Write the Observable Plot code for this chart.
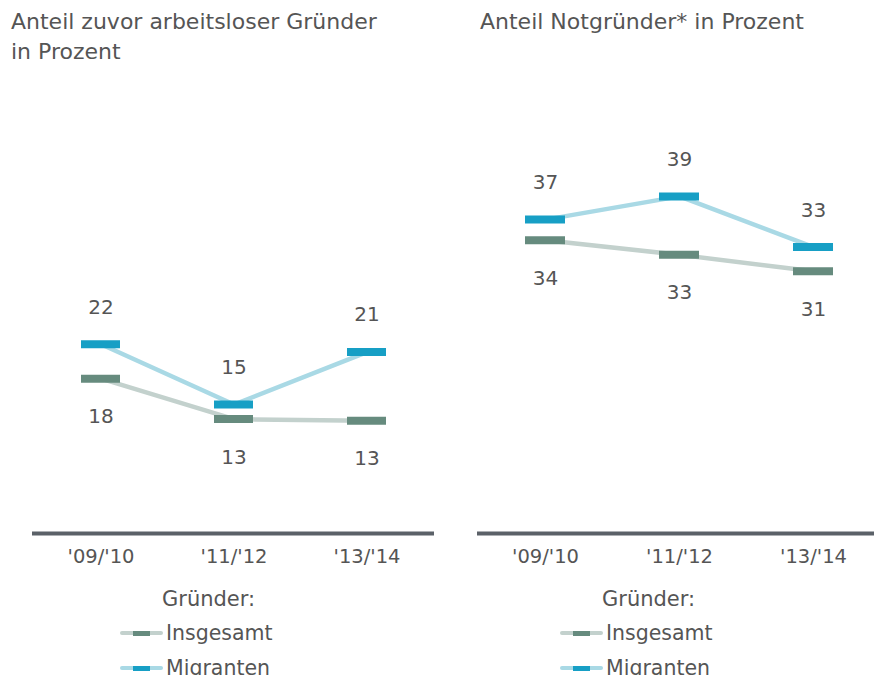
<!DOCTYPE html>
<html>
<head>
<meta charset="utf-8">
<script src="https://cdn.jsdelivr.net/npm/d3@7"></script>
<script src="https://cdn.jsdelivr.net/npm/@observablehq/plot@0.6"></script>
<style>
  body { margin: 0; background: #fff; font-family: "DejaVu Sans", sans-serif; color: #555; }
  #page { position: relative; width: 874px; height: 675px; overflow: hidden; background: #fff; }
  .title { position: absolute; top: 7px; font-size: 22px; line-height: 30px; color: #555; white-space: nowrap; }
  .panel { position: absolute; top: 80px; }
  .legend-head { position: absolute; font-size: 21px; line-height: 24px; color: #555; }
  .legend-row { position: absolute; height: 24px; display: flex; align-items: center; font-size: 20.5px; color: #555; }
  .swatch { position: relative; width: 43px; height: 24px; margin-right: 3px; }
  .swatch .ln { position: absolute; left: 0; right: 0; top: 10px; height: 4px; border-radius: 2px; }
  .swatch .mk { position: absolute; left: 13px; width: 17px; top: 9.5px; height: 5px; }
</style>
</head>
<body>
<div id="page"></div>
<script>
// ---- data ----
const periods = ["'09/'10", "'11/'12", "'13/'14"];
const seriesNames = ["Insgesamt", "Migranten"];
const lineColors = ["#c3d1cd", "#a9d9e5"];
const markColors = ["#668b7e", "#179fc5"];
const legendTitle = "Gründer:";

const titleLeft = ["Anteil zuvor arbeitsloser Gründer", "in Prozent"];
const titleRight = ["Anteil Notgründer* in Prozent"];

// Anteil zuvor arbeitsloser Gründer (positions)
const arbeitslosInsgesamt = [18.0, 13.3, 13.1];
const arbeitslosMigranten = [22.0, 15.0, 21.1];
const arbeitslosLabelsInsgesamt = ["18", "13", "13"];
const arbeitslosLabelsMigranten = ["22", "15", "21"];

// Anteil Notgründer
const notInsgesamt = [34.1, 32.4, 30.5];
const notMigranten = [36.5, 39.2, 33.3];
const notLabelsInsgesamt = ["34", "33", "31"];
const notLabelsMigranten = ["37", "39", "33"];

function rowsFor(ins, mig, insL, migL) {
  const rows = [];
  periods.forEach((p, i) => {
    rows.push({period: p, series: seriesNames[0], value: ins[i], label: insL[i]});
    rows.push({period: p, series: seriesNames[1], value: mig[i], label: migL[i]});
  });
  return rows;
}

const page = document.getElementById("page");

function addTitle(lines, left) {
  const d = document.createElement("div");
  d.className = "title";
  d.style.left = left + "px";
  d.innerHTML = lines.map(l => l.replace(/&/g, "&amp;").replace(/</g, "&lt;")).join("<br>");
  page.appendChild(d);
}

function makePanel(rows, left, marginLeft, marginRight, xRange) {
  const marks = [Plot.ruleY([0], {stroke: "#5b6168", strokeWidth: 4})];
  seriesNames.forEach((s, i) => {
    const sub = rows.filter(r => r.series === s);
    marks.push(Plot.line(sub, {x: "period", y: "value", stroke: lineColors[i], strokeWidth: 4.5}));
  });
  seriesNames.forEach((s, i) => {
    const sub = rows.filter(r => r.series === s);
    marks.push(Plot.tickY(sub, {x: "period", y: "value", stroke: markColors[i], strokeWidth: 8, insetLeft: 47, insetRight: 47}));
    marks.push(Plot.text(sub, {x: "period", y: "value", text: "label", fill: "#555", fontSize: 20, dy: i === 1 ? -37 : 38}));
  });
  const svg = Plot.plot({
    width: 437,
    height: 500,
    marginTop: 23,
    marginBottom: 47,
    marginLeft,
    marginRight,
    style: {fontFamily: "DejaVu Sans, sans-serif", fontSize: "19.5px", color: "#555", background: "transparent", overflow: "visible"},
    x: {type: "band", domain: periods, range: xRange, padding: 0, label: null, tickSize: 0, tickPadding: 16},
    y: {domain: [0, 50], axis: null},
    marks
  });
  const wrap = document.createElement("div");
  wrap.className = "panel";
  wrap.style.left = left + "px";
  wrap.appendChild(svg);
  page.appendChild(wrap);
}

function addLegend(left) {
  const h = document.createElement("div");
  h.className = "legend-head";
  h.style.left = (left + 42) + "px";
  h.style.top = "587px";
  h.textContent = legendTitle;
  page.appendChild(h);
  seriesNames.forEach((s, i) => {
    const r = document.createElement("div");
    r.className = "legend-row";
    r.style.left = left + "px";
    r.style.top = (621 + i * 35) + "px";
    const sw = document.createElement("div");
    sw.className = "swatch";
    const ln = document.createElement("div");
    ln.className = "ln"; ln.style.background = lineColors[i];
    const mk = document.createElement("div");
    mk.className = "mk"; mk.style.background = markColors[i];
    sw.appendChild(ln); sw.appendChild(mk);
    const t = document.createElement("span");
    t.textContent = s;
    r.appendChild(sw); r.appendChild(t);
    page.appendChild(r);
  });
}

addTitle(titleLeft, 11);
addTitle(titleRight, 480);
makePanel(rowsFor(arbeitslosInsgesamt, arbeitslosMigranten, arbeitslosLabelsInsgesamt, arbeitslosLabelsMigranten), 0, 32, 3, [33, 433]);
makePanel(rowsFor(notInsgesamt, notMigranten, notLabelsInsgesamt, notLabelsMigranten), 437, 40, 0, [41, 443]);
addLegend(120);
addLegend(560);
</script>
</body>
</html>
